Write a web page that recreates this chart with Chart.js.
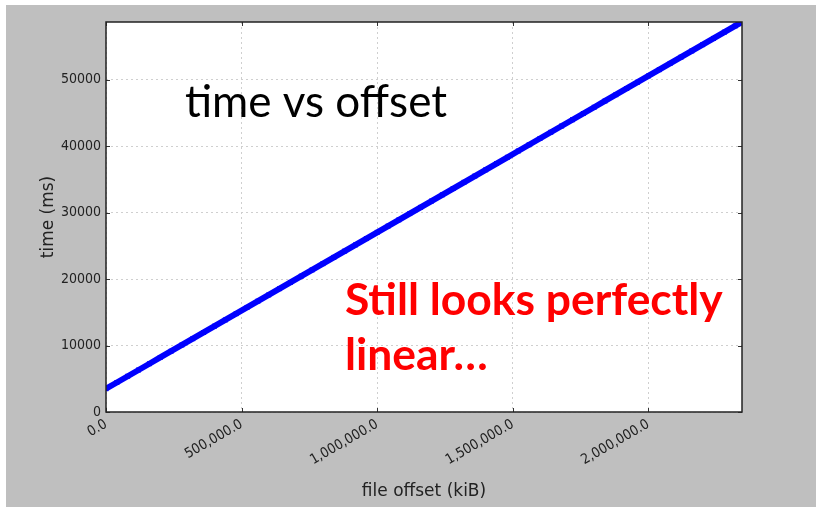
<!DOCTYPE html>
<html>
<head>
<meta charset="utf-8">
<script src="https://cdn.jsdelivr.net/npm/chart.js@4.4.1/dist/chart.umd.min.js"></script>
<style>
  html, body { margin: 0; padding: 0; background: #fff; }
  #wrap { position: relative; width: 816px; height: 507px; }
</style>
</head>
<body>
<div id="wrap"><canvas id="offsetChart" width="816" height="507"></canvas></div>
<script>
// file offset (kiB) vs elapsed time (ms)
const offsetsKiB = [
  0, 40000, 80000, 120000, 160000, 200000, 240000, 280000, 320000, 360000,
  400000, 440000, 480000, 520000, 560000, 600000, 640000, 680000, 720000, 760000,
  800000, 840000, 880000, 920000, 960000, 1000000, 1040000, 1080000, 1120000, 1160000,
  1200000, 1240000, 1280000, 1320000, 1360000, 1400000, 1440000, 1480000, 1520000, 1560000,
  1600000, 1640000, 1680000, 1720000, 1760000, 1800000, 1840000, 1880000, 1920000, 1960000,
  2000000, 2040000, 2080000, 2120000, 2160000, 2200000, 2240000, 2280000, 2320000, 2345000
];
const timesMs = [
  3500, 4442, 5383, 6325, 7266, 8208, 9150, 10091, 11033, 11974,
  12916, 13858, 14799, 15741, 16682, 17624, 18566, 19507, 20449, 21390,
  22332, 23274, 24215, 25157, 26098, 27040, 27982, 28923, 29865, 30806,
  31748, 32690, 33631, 34573, 35514, 36456, 37398, 38339, 39281, 40222,
  41164, 42106, 43047, 43989, 44930, 45872, 46814, 47755, 48697, 49638,
  50580, 51522, 52463, 53405, 54346, 55288, 56230, 57171, 58113, 58701
];
const xTickValues = [0, 500000, 1000000, 1500000, 2000000];
const yTickValues = [0, 10000, 20000, 30000, 40000, 50000];
const xMax = 2345000;
const yMax = 58700;

const tickFont = { family: "'DejaVu Sans Condensed', 'DejaVu Sans', sans-serif", size: 14 };
const titleFont = { family: "'DejaVu Sans', sans-serif", size: 17 };

const points = offsetsKiB.map((x, i) => ({ x, y: timesMs[i] }));

// grey backdrop behind the axes
const backdrop = {
  id: 'backdrop',
  beforeDraw(chart) {
    const { ctx, width, height, chartArea: a } = chart;
    ctx.save();
    ctx.fillStyle = '#ffffff';
    ctx.fillRect(0, 0, width, height);
    ctx.fillStyle = '#bfbfbf';
    ctx.fillRect(6, 5, width - 6, height - 5);
    ctx.fillStyle = '#ffffff';
    ctx.fillRect(a.left, a.top, a.right - a.left, a.bottom - a.top);
    ctx.restore();
  }
};

// frame + inward tick marks on all four sides, then the slide captions
const frame = {
  id: 'frame',
  afterDraw(chart) {
    const { ctx, chartArea: a, scales } = chart;
    ctx.save();
    ctx.strokeStyle = '#333';
    ctx.lineWidth = 1;
    scales.x.ticks.forEach(t => {
      const px = Math.round(scales.x.getPixelForValue(t.value)) + 0.5;
      ctx.beginPath();
      ctx.moveTo(px, a.bottom); ctx.lineTo(px, a.bottom - 4);
      ctx.moveTo(px, a.top); ctx.lineTo(px, a.top + 4);
      ctx.stroke();
    });
    scales.y.ticks.forEach(t => {
      const py = Math.round(scales.y.getPixelForValue(t.value)) + 0.5;
      ctx.beginPath();
      ctx.moveTo(a.left, py); ctx.lineTo(a.left + 4, py);
      ctx.moveTo(a.right, py); ctx.lineTo(a.right - 4, py);
      ctx.stroke();
    });
    ctx.lineWidth = 1.5;
    ctx.strokeStyle = '#222';
    ctx.strokeRect(a.left, a.top, a.right - a.left, a.bottom - a.top);

    ctx.textBaseline = 'alphabetic';
    ctx.textAlign = 'left';
    ctx.fillStyle = '#000';
    ctx.font = "44px Lato, 'Open Sans', sans-serif";
    ctx.fillText('time vs offset', 185, 117);
    ctx.fillStyle = '#ff0000';
    ctx.font = "bold 44.4px Lato, 'Open Sans', sans-serif";
    ctx.fillText('Still looks perfectly', 345, 315);
    ctx.fillText('linear\u2026', 345, 370);
    ctx.restore();
  }
};

new Chart(document.getElementById('offsetChart'), {
  type: 'scatter',
  data: {
    datasets: [{
      data: points,
      showLine: true,
      borderColor: '#0000ff',
      borderWidth: 6,
      backgroundColor: '#0000ff',
      pointStyle: 'rect',
      pointRadius: 3.5,
      pointBorderWidth: 0,
      clip: 0
    }]
  },
  options: {
    responsive: false,
    animation: false,
    events: [],
    layout: { padding: { left: 0, top: 22, right: 74, bottom: 0 } },
    plugins: { legend: { display: false }, tooltip: { enabled: false } },
    scales: {
      x: {
        type: 'linear',
        min: 0,
        max: xMax,
        afterFit(scale) { scale.height = 95; },
        afterBuildTicks(scale) { scale.ticks = xTickValues.map(value => ({ value })); },
        grid: { color: '#cfcfcf', drawTicks: false },
        border: { display: false, dash: [2, 3] },
        ticks: {
          autoSkip: false,
          minRotation: 30,
          maxRotation: 30,
          padding: 4,
          color: '#222',
          font: tickFont,
          callback: v => v.toLocaleString('en-US', { minimumFractionDigits: 1, maximumFractionDigits: 1 })
        },
        title: { display: true, text: 'file offset (kiB)', color: '#222', font: titleFont, padding: { top: 0, bottom: 5 } }
      },
      y: {
        type: 'linear',
        min: 0,
        max: yMax,
        afterFit(scale) { scale.width = 106; },
        afterBuildTicks(scale) { scale.ticks = yTickValues.map(value => ({ value })); },
        grid: { color: '#cfcfcf', drawTicks: false },
        border: { display: false, dash: [2, 3] },
        ticks: {
          autoSkip: false,
          padding: 5,
          color: '#222',
          font: tickFont,
          callback: v => String(v)
        },
        title: { display: true, text: 'time (ms)', color: '#222', font: titleFont, padding: { top: 38, bottom: 0 } }
      }
    }
  },
  plugins: [backdrop, frame]
});
</script>
</body>
</html>
